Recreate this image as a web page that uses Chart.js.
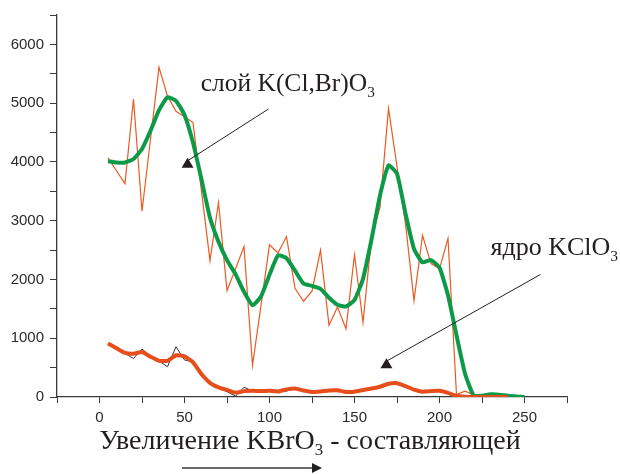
<!DOCTYPE html>
<html>
<head>
<meta charset="utf-8">
<script src="https://cdn.jsdelivr.net/npm/chart.js@4"></script>
<style>
  body { margin: 0; background: #fff; }
  #wrap { width: 620px; height: 474px; position: relative; }
</style>
</head>
<body>
<div id="wrap"><canvas id="chart"></canvas></div>
<script>
// x: step along the profile
var kbr = [5,10,15,20,25,30,35,40,45,50,55,60,65,70,75,80,85,90,95,100,
           105,110,115,120,125,130,135,140,145,150,155,160,165,170,175,180,185,190,195,200,
           205,210,215,220,225,230,235,240,245,250];

// слой K(Cl,Br)O3 - raw (thin orange)
var layerRaw = [4070,3850,3630,5070,3160,4390,5610,5120,4860,4770,4670,3500,2320,3310,1810,2180,2560,540,1560,2590,
                2450,2730,1850,1630,1800,2500,1220,1530,1160,2420,1270,2700,3230,4910,3920,2950,1640,2750,2270,2180,
                2700,40,100,40,10,0,0,0];
// слой - smoothed (thick green)
var layerSmooth = [4010,3990,3990,4050,4220,4530,4880,5100,5040,4800,4330,3700,3050,2640,2330,2090,1790,1560,1710,2080,
                   2410,2360,2150,1930,1890,1840,1690,1570,1540,1650,2010,2680,3430,3940,3800,3120,2520,2290,2330,2200,
                   1730,1050,400,30,20,45,40,20,10,0];
// ядро KClO3 - raw (thin black)
var coreRaw = [910,820,740,655,815,700,610,515,855,630,600,345,220,150,90,15,165,105,105,110,
               90,100,150,120,80,95,105,125,80,75,120,150,170,230,240,190,130,90,105,100,
               60,15,0];
// ядро - smoothed (thick orange)
var coreSmooth = [910,830,750,735,765,685,615,615,710,690,590,390,240,165,120,75,100,105,100,105,
                  95,130,145,110,85,95,110,115,85,90,120,145,175,225,235,185,125,90,100,105,
                  70,20,5,0,0,0,0,0];

var xTicks = [0,50,100,150,200,250];
var yTicks = [0,1000,2000,3000,4000,5000,6000];

function pts(vals) {
  return vals.map(function(v, i){ return {x: kbr[i], y: v}; });
}

// text with subscript pieces: [[text, isSub], ...]
function drawSub(ctx, parts, x, y, size, align) {
  var total = 0;
  parts.forEach(function(p){
    ctx.font = (p[1] ? size*0.6 : size) + 'px "Liberation Serif", "Times New Roman", serif';
    total += ctx.measureText(p[0]).width;
  });
  var cx = align === 'center' ? x - total/2 : x;
  ctx.textAlign = 'left';
  ctx.textBaseline = 'alphabetic';
  parts.forEach(function(p){
    ctx.font = (p[1] ? size*0.6 : size) + 'px "Liberation Serif", "Times New Roman", serif';
    ctx.fillText(p[0], cx, p[1] ? y + size*0.2 : y);
    cx += ctx.measureText(p[0]).width;
  });
}

function arrow(ctx, x1, y1, x2, y2) {
  ctx.beginPath();
  ctx.moveTo(x1, y1);
  ctx.lineTo(x2, y2 + 3);
  ctx.stroke();
  ctx.beginPath();
  ctx.moveTo(x2, y2);
  ctx.lineTo(x2 - 6, y2 + 10);
  ctx.lineTo(x2 + 6, y2 + 10);
  ctx.closePath();
  ctx.fill();
}

var notes = {
  id: 'notes',
  afterDraw: function(chart) {
    var ctx = chart.ctx, xs = chart.scales.x, ys = chart.scales.y;
    ctx.save();
    ctx.fillStyle = '#231f20';
    ctx.strokeStyle = '#231f20';
    ctx.lineWidth = 1;

    drawSub(ctx, [['слой K(Cl,Br)O', false], ['3', true]],
            xs.getPixelForValue(59.5), ys.getPixelForValue(5200), 25.5, 'left');
    arrow(ctx, xs.getPixelForValue(99.4), ys.getPixelForValue(4900),
               xs.getPixelForValue(51.8), ys.getPixelForValue(4070));

    drawSub(ctx, [['ядро KClO', false], ['3', true]],
            xs.getPixelForValue(230), ys.getPixelForValue(2410), 26, 'left');
    arrow(ctx, xs.getPixelForValue(259.4), ys.getPixelForValue(2085),
               xs.getPixelForValue(168.8), ys.getPixelForValue(660));

    // axis title and direction arrow
    drawSub(ctx, [['Увеличение KBrO', false], ['3', true], [' - составляющей', false]],
            310, 449, 28, 'center');
    ctx.strokeStyle = '#3a3a3a';
    ctx.lineWidth = 1.3;
    ctx.beginPath();
    ctx.moveTo(182, 468);
    ctx.lineTo(314, 468);
    ctx.stroke();
    ctx.fillStyle = '#231f20';
    ctx.beginPath();
    ctx.moveTo(322, 468);
    ctx.lineTo(312, 463);
    ctx.lineTo(312, 473);
    ctx.closePath();
    ctx.fill();
    ctx.restore();
  }
};

new Chart(document.getElementById('chart'), {
  type: 'line',
  data: {
    datasets: [
      { data: pts(coreSmooth), borderColor: '#e84e1b', borderWidth: 4, tension: 0.15, pointRadius: 0 },
      { data: pts(coreRaw), borderColor: '#333333', borderWidth: 1, tension: 0, pointRadius: 0 },
      { data: pts(layerSmooth), borderColor: '#0d9a48', borderWidth: 4, tension: 0.15, pointRadius: 0 },
      { data: pts(layerRaw), borderColor: '#ea5a22', borderWidth: 1.2, tension: 0, pointRadius: 0 }
    ]
  },
  options: {
    responsive: true,
    maintainAspectRatio: false,
    animation: false,
    layout: { padding: { left: 0, top: 13, right: 53, bottom: 0 } },
    plugins: { legend: { display: false }, tooltip: { enabled: false } },
    scales: {
      x: {
        type: 'linear', min: -25, max: 275,
        afterFit: function(s){ s.height = 77; },
        border: { display: true, color: '#3a3a3a', width: 1.3 },
        grid: { drawOnChartArea: false, drawTicks: true, tickLength: 6, color: '#3a3a3a' },
        ticks: {
          stepSize: 25, padding: 6, color: '#2a2a2a',
          font: { family: '"Liberation Sans", Arial, sans-serif', size: 15 },
          maxRotation: 0, autoSkip: false,
          callback: function(v){ return xTicks.indexOf(v) >= 0 ? v : ''; }
        }
      },
      y: {
        min: 0, max: 6500,
        afterFit: function(s){ s.width = 57; },
        border: { display: true, color: '#3a3a3a', width: 1.3 },
        grid: { drawOnChartArea: false, drawTicks: true, tickLength: 7, color: '#3a3a3a' },
        ticks: {
          stepSize: 500, padding: 6, color: '#2a2a2a',
          font: { family: '"Liberation Sans", Arial, sans-serif', size: 15 },
          autoSkip: false,
          callback: function(v){ return yTicks.indexOf(v) >= 0 ? v : ''; }
        }
      }
    }
  },
  plugins: [notes]
});
</script>
</body>
</html>
